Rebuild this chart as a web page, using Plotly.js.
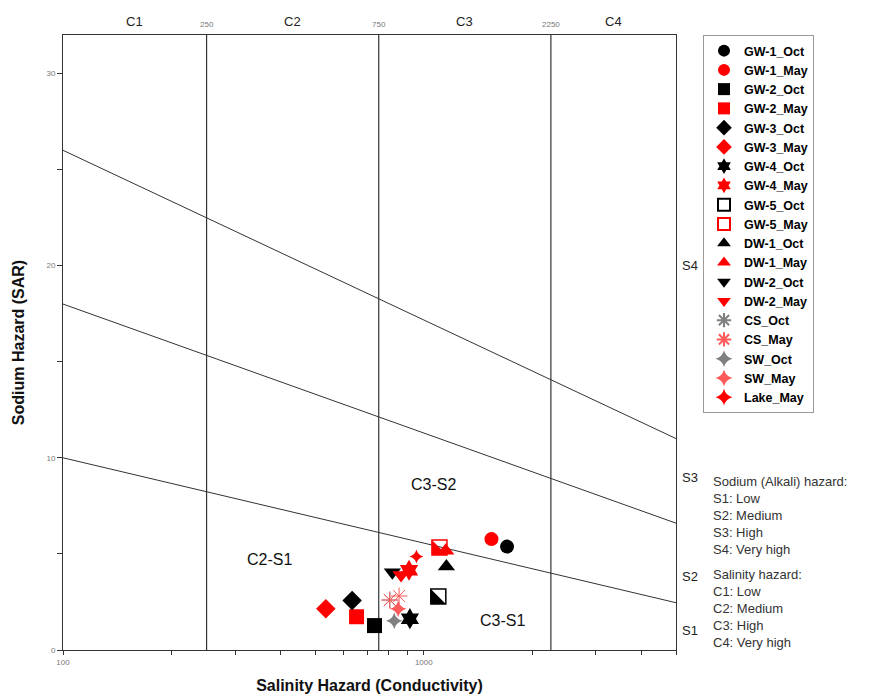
<!DOCTYPE html>
<html>
<head>
<meta charset="utf-8">
<script src="https://cdn.plot.ly/plotly-3.0.1.min.js"></script>
<style>html,body{margin:0;padding:0;background:#fff;}#chart{width:869px;height:695px;}</style>
</head>
<body>
<div id="chart"></div>
<script>
// ---------------- data ----------------
const seriesNames = ['GW-1_Oct','GW-1_May','GW-2_Oct','GW-2_May','GW-3_Oct','GW-3_May','GW-4_Oct','GW-4_May','GW-5_Oct','GW-5_May','DW-1_Oct','DW-1_May','DW-2_Oct','DW-2_May','CS_Oct','CS_May','SW_Oct','SW_May','Lake_May'];
// electrical conductivity (uS/cm)
const seriesEC  = [[1701],[1540],[730],[651],[633],[535],[915],[910],[1097],[1105],[1155],[1150],[818],[865],[805],[805,854],[828],[849],[954]];
// sodium adsorption ratio
const seriesSAR = [[5.38],[5.77],[1.27],[1.73],[2.57],[2.14],[1.63],[4.15],[2.78],[5.33],[4.35],[5.17],[4.05],[3.9],[2.6],[2.6,2.81],[1.52],[2.14],[4.86]];

// classification boundaries
const boundaryEC = [100, 5000];
const s1s2SAR = [10, 2.46];
const s2s3SAR = [18, 6.6];
const s3s4SAR = [26, 11.0];
const classBreaksEC = [250, 750, 2250];
const sarSpan = [0, 32];
const salinityClasses = ['C1','C2','C3','C4'];
const classEdgesEC = [100, 250, 750, 2250, 5000];
const sodiumClasses = ['S4','S3','S2','S1'];
const sodiumLabelSAR = [20, 9, 3.8, 1.0];
const zoneLabels = ['C3-S2','C2-S1','C3-S1'];
const zoneEC = [1066, 374, 1656];
const zoneSAR = [8.6, 4.69, 1.51];
const ecTicks = [100,200,300,400,500,600,700,800,900,1000,2000,3000,4000,5000];
const ecTickText = ['100','','','','','','','','','1000','','','',''];
const sarTicks = [0,5,10,15,20,25,30];
const sarTickText = ['0','','10','','20','','30'];

// ---------------- styles ----------------
const RED = '#ff0000', BLK = '#000000', GRY = '#808080', LRED = '#ff5a5a';
const styles = [
  {symbol:'circle', color:BLK, size:14},
  {symbol:'circle', color:RED, size:14},
  {symbol:'square', color:BLK, size:15},
  {symbol:'square', color:RED, size:15},
  {symbol:'diamond', color:BLK, size:15},
  {symbol:'diamond', color:RED, size:15},
  {symbol:'hexagram', color:BLK, size:16},
  {symbol:'hexagram', color:RED, size:16},
  {symbol:'square-open', color:BLK, size:15, lw:1.5, half:true},
  {symbol:'square-open', color:RED, size:15, lw:1.5, half:true},
  {symbol:'triangle-up', color:BLK, size:15},
  {symbol:'triangle-up', color:RED, size:15},
  {symbol:'triangle-down', color:BLK, size:15},
  {symbol:'triangle-down', color:RED, size:15},
  {symbol:'asterisk-open', color:GRY, size:14, lw:1},
  {symbol:'asterisk-open', color:LRED, size:14, lw:1},
  {symbol:'star-diamond', color:GRY, size:12},
  {symbol:'star-diamond', color:LRED, size:12},
  {symbol:'star-diamond', color:RED, size:10}
];

const FONT = 'Liberation Sans, Arial, sans-serif';
const traces = [];
const lineStyle = {color:'#333333', width:1};
[s1s2SAR, s2s3SAR, s3s4SAR].forEach(s => traces.push({x:boundaryEC, y:s, mode:'lines', line:lineStyle, showlegend:false, hoverinfo:'skip'}));
classBreaksEC.forEach(b => traces.push({x:[b,b], y:sarSpan, mode:'lines', line:{color:'#333333', width:1.2}, showlegend:false, hoverinfo:'skip'}));

seriesNames.forEach((n,i) => {
  const st = styles[i];
  const open = st.symbol.indexOf('open') >= 0;
  traces.push({
    x: seriesEC[i], y: seriesSAR[i], name: n, mode:'markers',
    marker: {symbol: st.symbol, size: st.size, color: st.color,
      line: open ? {color: st.color, width: st.lw} : {width:0}}
  });
});
// half-filled squares: filled corner triangle drawn on a slightly offset twin scale
const HALF_SIZE = 15 / 0.9;
seriesNames.forEach((n,i) => {
  const st = styles[i];
  if (!st.half) return;
  traces.push({x: seriesEC[i], y: seriesSAR[i], xaxis:'x2', yaxis:'y2', mode:'markers', showlegend:false, hoverinfo:'skip',
    marker:{symbol:'triangle-sw', size: HALF_SIZE, color: st.color, line:{width:0}}});
});

const W = 869, H = 695, ML = 63, MR = 193, MT = 35, MB = 45;
const plotW = W - ML - MR, plotH = H - MT - MB;
const logLo = Math.log10(boundaryEC[0]), logHi = Math.log10(boundaryEC[1]);
const pxPerLog = plotW / (logHi - logLo), pxPerSar = plotH / (sarSpan[1] - sarSpan[0]);
const shift = 15 / 2 / 3; // px
const dx = shift / pxPerLog, dy = shift / pxPerSar;

const annotations = [];
salinityClasses.forEach((c,i) => annotations.push({
  x: (Math.log10(classEdgesEC[i]) + Math.log10(classEdgesEC[i+1]))/2, xref:'x', y: 1 + 13/plotH, yref:'paper', yanchor:'middle',
  text:c, showarrow:false, font:{family:FONT, size:13, color:'#222'}}));
classBreaksEC.forEach(b => annotations.push({
  x: Math.log10(b), xref:'x', y: 1 + 11/plotH, yref:'paper', yanchor:'middle', text:String(b), showarrow:false,
  font:{family:FONT, size:8, color:'#777'}}));
sodiumClasses.forEach((s,i) => annotations.push({
  x: 1 + 14/plotW, xref:'paper', y: sodiumLabelSAR[i], yref:'y', yanchor:'middle', text:s, showarrow:false, xanchor:'center',
  font:{family:FONT, size:13, color:'#222'}}));
zoneLabels.forEach((z,i) => annotations.push({
  x: Math.log10(zoneEC[i]), xref:'x', y: zoneSAR[i], yref:'y', yanchor:'middle', text:z, showarrow:false,
  font:{family:FONT, size:16, color:'#111'}}));
annotations.push({x: 1 + 35/plotW, xref:'paper', xanchor:'left', align:'left', y:(plotH+MT-472)/plotH, yref:'paper', yanchor:'top',
  text:'Sodium (Alkali) hazard:<br>S1: Low<br>S2: Medium<br>S3: High<br>S4: Very high', showarrow:false,
  font:{family:FONT, size:13, color:'#333'}});
annotations.push({x: 1 + 35/plotW, xref:'paper', xanchor:'left', align:'left', y:(plotH+MT-565)/plotH, yref:'paper', yanchor:'top',
  text:'Salinity hazard:<br>C1: Low<br>C2: Medium<br>C3: High<br>C4: Very high', showarrow:false,
  font:{family:FONT, size:13, color:'#333'}});

const layout = {
  width: W, height: H,
  margin: {l:ML, r:MR, t:MT, b:MB, pad:0},
  paper_bgcolor:'#fff', plot_bgcolor:'#fff',
  font:{family:FONT},
  xaxis: {type:'log', range:[logLo, logHi], showgrid:false, zeroline:false,
    showline:true, linecolor:'#333', linewidth:1, mirror:true,
    tickvals: ecTicks, ticktext: ecTickText, ticks:'outside', ticklen:4, tickcolor:'#333',
    tickfont:{family:FONT, size:8, color:'#777'},
    title:{text:'Salinity Hazard (Conductivity)', standoff:14, font:{family:FONT, size:16, color:'#111', weight:'bold'}}},
  yaxis: {range: sarSpan, showgrid:false, zeroline:false,
    showline:true, linecolor:'#333', linewidth:1, mirror:true,
    tickvals: sarTicks, ticktext: sarTickText, ticks:'outside', ticklen:5, tickcolor:'#333',
    tickfont:{family:FONT, size:8, color:'#777'},
    title:{text:'Sodium Hazard (SAR)', standoff:17, font:{family:FONT, size:16, color:'#111', weight:'bold'}}},
  xaxis2: {type:'log', overlaying:'x', range:[logLo + dx, logHi + dx], visible:false},
  yaxis2: {overlaying:'y', range:[sarSpan[0] + dy, sarSpan[1] + dy], visible:false},
  legend: {x: 1 + 27/plotW, xanchor:'left', y: 1, yanchor:'top', bordercolor:'#999', borderwidth:1, maxheight: 690,
    entrywidth: 122, entrywidthmode:'pixels',
    bgcolor:'#fff', tracegroupgap:0, itemsizing:'constant', font:{family:FONT, size:12.5, color:'#000', weight:'bold'}},
  annotations: annotations,
  showlegend: true
};

Plotly.newPlot('chart', traces, layout, {displayModeBar:false, staticPlot:true});
</script>
</body>
</html>
